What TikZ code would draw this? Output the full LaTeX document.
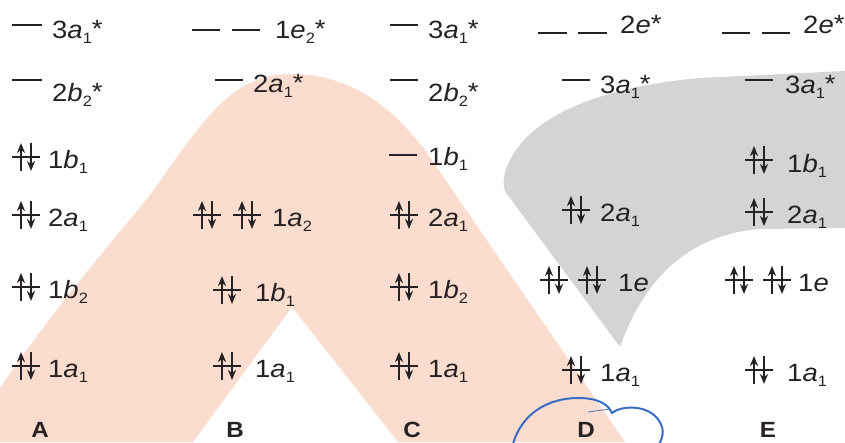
\documentclass[tikz,border=0pt]{standalone}
\usepackage{fontspec}
\setmainfont[FakeStretch=1.1]{Liberation Sans}
\usetikzlibrary{arrows.meta}
\definecolor{ink}{HTML}{262122}
\definecolor{salmon}{HTML}{FADDCF}
\definecolor{grayreg}{HTML}{D3D4D6}
\definecolor{pen}{HTML}{3B6CC4}
\newcommand{\sbs}[1]{\raisebox{-5pt}{\fontsize{15}{15}\selectfont #1}}
\newcommand{\stx}{\raisebox{1pt}{*}}
\tikzset{
  lvl/.style={line width=2.6pt, draw=ink},
  plvl/.style={line width=2.2pt, draw=ink},
  earrow/.style={line width=2.6pt, draw=ink, -{Stealth[length=10pt,width=8pt,inset=3pt]}},
  lab/.style={anchor=base west, inner sep=0pt, text=ink, font=\fontsize{25}{30}\selectfont},
  col/.style={anchor=base, inner sep=0pt, text=ink, font=\bfseries\fontsize{22}{26}\selectfont},
}
\newcommand{\epair}[3]{%
  \coordinate (#1) at (#2,#3);
  \draw[plvl] (#2-14,#3) -- (#2+14,#3);
  \draw[earrow] (#2-5,#3+14) -- (#2-5,#3-14);
  \draw[earrow] (#2+5,#3-14) -- (#2+5,#3+14);
}
\begin{document}
\begin{tikzpicture}[x=1pt,y=-1pt]
\useasboundingbox (0,0) rectangle (845,442);
\clip (0,0) rectangle (845,442);
% regions
\fill[salmon] (0,442) -- (0,388) .. controls (60,300) and (110,245) .. (150,195)
  .. controls (200,125) and (230,74) .. (290,74) .. controls (350,74) and (390,105) .. (425,150)
  -- (625,442) -- (398,442) -- (292,307) -- (193,442) -- cycle;
\fill[grayreg] (507,194) .. controls (500,186) and (505,170) .. (510,160)
  .. controls (530,120) and (590,88) .. (700,78) -- (845,71) -- (845,228)
  -- (760,229) .. controls (680,235) and (640,290) .. (620,347) -- cycle;
% hand-drawn loop
\draw[pen, line width=2pt, line cap=round] (513,444) .. controls (522,412) and (550,398) .. (578,398)
  .. controls (598,398) and (608,404) .. (612,413) .. controls (620,406) and (645,404) .. (657,418)
  .. controls (665,428) and (664,436) .. (658,446);
\draw[pen!70!gray, line width=0.8pt] (588,412) -- (610,409);
% column A
\draw[lvl] (12,25) -- (42,25); \node[lab] (tA1) at (52,38) {3\textit{a}\sbs{1}\stx};
\draw[lvl] (12,80) -- (42,80); \node[lab] (tA2) at (52,101) {2\textit{b}\sbs{2}\stx};
\epair{pA3}{26}{157} \node[lab] (tA3) at (48,168) {1\textit{b}\sbs{1}};
\epair{pA4}{26}{215} \node[lab] (tA4) at (48,226) {2\textit{a}\sbs{1}};
\epair{pA5}{26}{287} \node[lab] (tA5) at (48,298) {1\textit{b}\sbs{2}};
\epair{pA6}{26}{366} \node[lab] (tA6) at (48,377) {1\textit{a}\sbs{1}};
% column B
\draw[lvl] (192,30) -- (220,30); \draw[lvl] (232,30) -- (260,30);
\node[lab] (tB1) at (275,38) {1\textit{e}\sbs{2}\stx};
\draw[lvl] (215,80) -- (243,80); \node[lab] (tB2) at (253,92) {2\textit{a}\sbs{1}\stx};
\epair{pB3a}{207}{215} \epair{pB3b}{247}{215} \node[lab] (tB3) at (272,226) {1\textit{a}\sbs{2}};
\epair{pB4}{227}{290} \node[lab] (tB4) at (255,301) {1\textit{b}\sbs{1}};
\epair{pB5}{227}{366} \node[lab] (tB5) at (255,377) {1\textit{a}\sbs{1}};
% column C
\draw[lvl] (390,25) -- (418,25); \node[lab] (tC1) at (428,38) {3\textit{a}\sbs{1}\stx};
\draw[lvl] (390,80) -- (418,80); \node[lab] (tC2) at (428,101) {2\textit{b}\sbs{2}\stx};
\draw[lvl] (389,155) -- (417,155); \node[lab] (tC3) at (428,165) {1\textit{b}\sbs{1}};
\epair{pC4}{404}{215} \node[lab] (tC4) at (428,226) {2\textit{a}\sbs{1}};
\epair{pC5}{404}{287} \node[lab] (tC5) at (428,298) {1\textit{b}\sbs{2}};
\epair{pC6}{404}{366} \node[lab] (tC6) at (428,377) {1\textit{a}\sbs{1}};
% column D
\draw[lvl] (538,33) -- (567,33); \draw[lvl] (578,33) -- (607,33);
\node[lab] (tD1) at (620,33) {2\textit{e}\stx};
\draw[lvl] (562,80) -- (590,80); \node[lab] (tD2) at (600,93) {3\textit{a}\sbs{1}\stx};
\epair{pD3}{576}{210} \node[lab] (tD3) at (600,221) {2\textit{a}\sbs{1}};
\epair{pD4a}{554}{280} \epair{pD4b}{592}{280} \node[lab] (tD4) at (618,291) {1\textit{e}};
\epair{pD5}{576}{370} \node[lab] (tD5) at (600,381) {1\textit{a}\sbs{1}};
% column E
\draw[lvl] (722,33) -- (750,33); \draw[lvl] (762,33) -- (790,33);
\node[lab] (tE1) at (803,33) {2\textit{e}\stx};
\draw[lvl] (745,80) -- (773,80); \node[lab] (tE2) at (785,93) {3\textit{a}\sbs{1}\stx};
\epair{pE3}{759}{160} \node[lab] (tE3) at (787,172) {1\textit{b}\sbs{1}};
\epair{pE4}{759}{212} \node[lab] (tE4) at (787,223) {2\textit{a}\sbs{1}};
\epair{pE5a}{739}{280} \epair{pE5b}{777}{280} \node[lab] (tE5) at (798,291) {1\textit{e}};
\epair{pE6}{759}{370} \node[lab] (tE6) at (787,381) {1\textit{a}\sbs{1}};
% column letters
\node[col] (lA) at (40,437) {A};
\node[col] (lB) at (235,437) {B};
\node[col] (lC) at (412,437) {C};
\node[col] (lD) at (586,437) {D};
\node[col] (lE) at (768,437) {E};
\end{tikzpicture}
\end{document}
